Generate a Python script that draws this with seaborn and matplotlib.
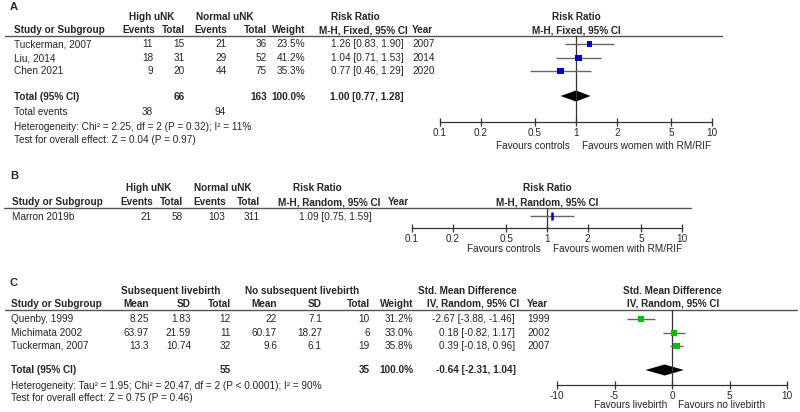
import numpy as np
import matplotlib
matplotlib.use("Agg")
import matplotlib.pyplot as plt
import seaborn as sns

# ---- panel A data
a_studies = ["Tuckerman, 2007", "Liu, 2014", "Chen 2021"]
a_high_events = [11, 18, 9]
a_high_total = [15, 31, 20]
a_norm_events = [21, 29, 44]
a_norm_total = [36, 52, 75]
a_weight = [23.5, 41.2, 35.3]
a_rr = [1.26, 1.04, 0.77]
a_lo = [0.83, 0.71, 0.46]
a_hi = [1.90, 1.53, 1.29]
a_year = [2007, 2014, 2020]
a_total = [1.00, 0.77, 1.28]
a_sum_total = [66, 163]
a_sum_events = [38, 94]

# ---- panel B data
b_studies = ["Marron 2019b"]
b_high_events = [21]
b_high_total = [58]
b_norm_events = [103]
b_norm_total = [311]
b_rr = [1.09]
b_lo = [0.75]
b_hi = [1.59]

# ---- panel C data
c_studies = ["Quenby, 1999", "Michimata 2002", "Tuckerman, 2007"]
c_live_mean = [8.25, 63.97, 13.3]
c_live_sd = [1.83, 21.59, 10.74]
c_live_n = [12, 11, 32]
c_no_mean = [22, 60.17, 9.6]
c_no_sd = [7.1, 18.27, 6.1]
c_no_n = [10, 6, 19]
c_weight = [31.2, 33.0, 35.8]
c_smd = [-2.67, 0.18, 0.39]
c_lo = [-3.88, -0.82, -0.18]
c_hi = [-1.46, 1.17, 0.96]
c_year = [1999, 2002, 2007]
c_total = [-0.64, -2.31, 1.04]
c_sum_n = [55, 35]

log_ticks = [0.1, 0.2, 0.5, 1, 2, 5, 10]
lin_ticks = [-10, -5, 0, 5, 10]

sns.set_theme(style="white")
plt.rcParams["font.family"] = ["Liberation Sans", "DejaVu Sans"]

W, H = 800, 412
FS = 7.2
fig = plt.figure(figsize=(8, 4.12), dpi=100)
bg = fig.add_axes([0, 0, 1, 1])
bg.set_xlim(0, W)
bg.set_ylim(H, 0)
bg.axis("off")

TXT = "#262626"
LINE = "#555555"
BLUE = "#0000CC"
GREEN = "#00C000"


def t(x, y, s, ha="left", bold=False, size=FS):
    bg.text(x, y, s, ha=ha, va="center", fontsize=size, color=TXT,
            fontweight="bold" if bold else "normal")


def px_axes(x0, x1, y0, y1):
    ax = fig.add_axes([x0 / W, 1 - y1 / H, (x1 - x0) / W, (y1 - y0) / H])
    ax.set_ylim(y1, y0)
    ax.set_facecolor("none")
    for side in ["top", "left", "right"]:
        ax.spines[side].set_visible(False)
    ax.spines["bottom"].set_color("#333333")
    ax.spines["bottom"].set_linewidth(0.9)
    ax.set_yticks([])
    ax.tick_params(axis="x", direction="inout", length=6, width=0.9,
                   color="#333333", labelsize=FS, labelcolor=TXT, pad=1.5,
                   bottom=True)
    return ax


def diamond(ax, est, lo, hi, y, h=5.5):
    ax.fill([lo, est, hi, est], [y, y - h, y, y + h], color="black", lw=0)


# ================= Panel A =================
t(10, 7, "A", bold=True, size=8)
t(152, 17, "High uNK", ha="center", bold=True)
t(225, 17, "Normal uNK", ha="center", bold=True)
t(355, 17, "Risk Ratio", ha="center", bold=True)
t(576, 17, "Risk Ratio", ha="center", bold=True)
t(14, 30, "Study or Subgroup", bold=True)
for x, s in [(155, "Events"), (185, "Total"), (227, "Events"),
             (267, "Total"), (305, "Weight")]:
    t(x, 30, s, ha="right", bold=True)
t(363, 30, "M-H, Fixed, 95% CI", ha="center", bold=True)
t(412, 30, "Year", bold=True)
t(576, 30, "M-H, Fixed, 95% CI", ha="center", bold=True)
bg.plot([5, 722], [35.5, 35.5], color=LINE, lw=1)

a_rows = [44, 58, 71]
for i, y in enumerate(a_rows):
    t(14, y, a_studies[i])
    t(153, y, str(a_high_events[i]), ha="right")
    t(185, y, str(a_high_total[i]), ha="right")
    t(227, y, str(a_norm_events[i]), ha="right")
    t(267, y, str(a_norm_total[i]), ha="right")
    t(305, y, f"{a_weight[i]:.1f}%", ha="right")
    t(404, y, f"{a_rr[i]:.2f} [{a_lo[i]:.2f}, {a_hi[i]:.2f}]", ha="right")
    t(412, y, str(a_year[i]))
t(14, 97, "Total (95% CI)", bold=True)
t(185, 97, str(a_sum_total[0]), ha="right", bold=True)
t(267, 97, str(a_sum_total[1]), ha="right", bold=True)
t(305, 97, "100.0%", ha="right", bold=True)
t(404, 97, f"{a_total[0]:.2f} [{a_total[1]:.2f}, {a_total[2]:.2f}]",
  ha="right", bold=True)
t(14, 112, "Total events")
t(153, 112, str(a_sum_events[0]), ha="right")
t(226, 112, str(a_sum_events[1]), ha="right")
t(14, 127, "Heterogeneity: Chi² = 2.25, df = 2 (P = 0.32); I² = 11%")
t(14, 140, "Test for overall effect: Z = 0.04 (P = 0.97)")

axA = px_axes(440, 712, 35.5, 122)
axA.set_xscale("log")
axA.set_xlim(0.1, 10)
axA.axvline(1, color="#333333", lw=0.9)
axA.hlines(a_rows, a_lo, a_hi, color="#666666", lw=1)
sns.scatterplot(x=a_rr, y=a_rows, ax=axA, marker="s", color=BLUE,
                s=[w * 0.58 for w in a_weight], linewidth=0, legend=False,
                zorder=3)
diamond(axA, a_total[0], a_total[1], a_total[2], 96)
axA.set_xticks(log_ticks)
axA.set_xticklabels([f"{v:g}" for v in log_ticks])
axA.xaxis.set_minor_locator(matplotlib.ticker.NullLocator())
axA.set_ylim(122, 35.5)
t(570, 146, "Favours controls", ha="right")
t(582, 146, "Favours women with RM/RIF")

# ================= Panel B =================
t(10, 176, "B", bold=True, size=8)
t(149, 188, "High uNK", ha="center", bold=True)
t(223, 188, "Normal uNK", ha="center", bold=True)
t(317, 188, "Risk Ratio", ha="center", bold=True)
t(547, 188, "Risk Ratio", ha="center", bold=True)
t(12, 202, "Study or Subgroup", bold=True)
for x, s in [(153, "Events"), (183, "Total"), (226, "Events"),
             (260, "Total")]:
    t(x, 202, s, ha="right", bold=True)
t(329, 202, "M-H, Random, 95% CI", ha="center", bold=True)
t(388, 202, "Year", bold=True)
t(547, 202, "M-H, Random, 95% CI", ha="center", bold=True)
bg.plot([4, 691], [207.5, 207.5], color=LINE, lw=1)

b_rows = [216]
for i, y in enumerate(b_rows):
    t(12, y + 1, b_studies[i])
    t(152, y + 1, str(b_high_events[i]), ha="right")
    t(183, y + 1, str(b_high_total[i]), ha="right")
    t(225, y + 1, str(b_norm_events[i]), ha="right")
    t(260, y + 1, str(b_norm_total[i]), ha="right")
    t(372, y + 1, f"{b_rr[i]:.2f} [{b_lo[i]:.2f}, {b_hi[i]:.2f}]", ha="right")

axB = px_axes(412, 682, 207.5, 228)
axB.set_xscale("log")
axB.set_xlim(0.1, 10)
axB.axvline(1, color="#333333", lw=0.9)
axB.hlines(b_rows, b_lo, b_hi, color="#666666", lw=1)
sns.scatterplot(x=b_rr, y=b_rows, ax=axB, marker="|", color=BLUE,
                s=30, linewidth=1.8, legend=False, zorder=3)
axB.set_xticks(log_ticks)
axB.set_xticklabels([f"{v:g}" for v in log_ticks])
axB.xaxis.set_minor_locator(matplotlib.ticker.NullLocator())
axB.set_ylim(228, 207.5)
t(541, 249, "Favours controls", ha="right")
t(553, 249, "Favours women with RM/RIF")

# ================= Panel C =================
t(10, 283, "C", bold=True, size=8)
t(171, 291, "Subsequent livebirth", ha="center", bold=True)
t(302, 291, "No subsequent livebirth", ha="center", bold=True)
t(467, 291, "Std. Mean Difference", ha="center", bold=True)
t(672, 291, "Std. Mean Difference", ha="center", bold=True)
t(11, 304, "Study or Subgroup", bold=True)
for x, s in [(149, "Mean"), (191, "SD"), (231, "Total"), (277, "Mean"),
             (322, "SD"), (370, "Total"), (413, "Weight")]:
    t(x, 304, s, ha="right", bold=True)
t(473, 304, "IV, Random, 95% CI", ha="center", bold=True)
t(527, 304, "Year", bold=True)
t(673, 304, "IV, Random, 95% CI", ha="center", bold=True)
bg.plot([5, 797], [309.5, 309.5], color=LINE, lw=1)

c_rows = [319, 333, 346]
for i, y in enumerate(c_rows):
    t(11, y, c_studies[i])
    t(149, y, f"{c_live_mean[i]:g}", ha="right")
    t(191, y, f"{c_live_sd[i]:g}", ha="right")
    t(231, y, str(c_live_n[i]), ha="right")
    t(277, y, f"{c_no_mean[i]:g}", ha="right")
    t(322, y, f"{c_no_sd[i]:g}", ha="right")
    t(370, y, str(c_no_n[i]), ha="right")
    t(413, y, f"{c_weight[i]:.1f}%", ha="right")
    t(515, y, f"{c_smd[i]:.2f} [{c_lo[i]:.2f}, {c_hi[i]:.2f}]", ha="right")
    t(527, y, str(c_year[i]))
t(11, 370, "Total (95% CI)", bold=True)
t(231, 370, str(c_sum_n[0]), ha="right", bold=True)
t(370, 370, str(c_sum_n[1]), ha="right", bold=True)
t(413, 370, "100.0%", ha="right", bold=True)
t(516, 370, f"{c_total[0]:.2f} [{c_total[1]:.2f}, {c_total[2]:.2f}]",
  ha="right", bold=True)
t(11, 386, "Heterogeneity: Tau² = 1.95; Chi² = 20.47, df = 2 (P < 0.0001); I² = 90%")
t(11, 398, "Test for overall effect: Z = 0.75 (P = 0.46)")

axC = px_axes(557, 787, 309.5, 385)
axC.set_xlim(-10, 10)
axC.axvline(0, color="#333333", lw=0.9)
axC.hlines(c_rows, c_lo, c_hi, color="#666666", lw=1)
sns.scatterplot(x=c_smd, y=c_rows, ax=axC, marker="s", color=GREEN,
                s=[w * 0.58 for w in c_weight], linewidth=0, legend=False,
                zorder=3)
diamond(axC, c_total[0], c_total[1], c_total[2], 370)
axC.set_xticks(lin_ticks)
axC.set_xticklabels([str(v) for v in lin_ticks])
axC.set_ylim(385, 309.5)
t(667, 405, "Favours livebirth", ha="right")
t(678, 405, "Favours no livebirth")

fig.savefig("out.png", dpi=100)
